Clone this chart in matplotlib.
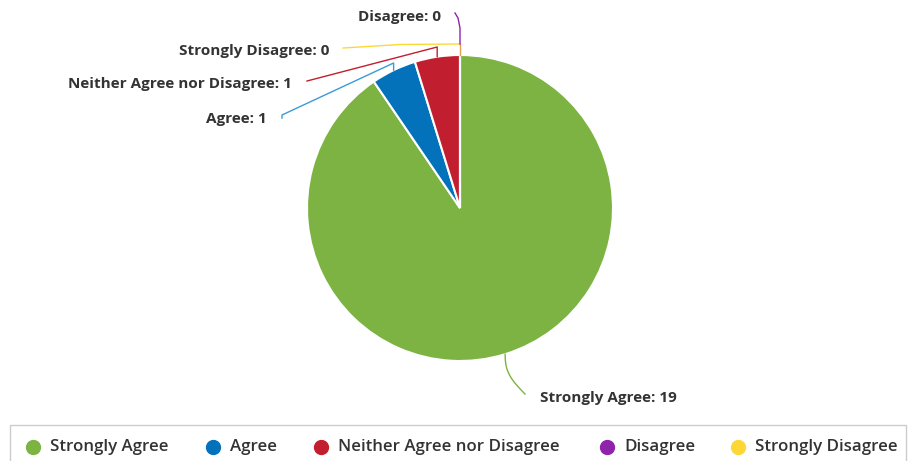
import matplotlib.pyplot as plt
import matplotlib.patches as mpatches
import numpy as np

# survey answers, clockwise from 12 o'clock
categories = ['Strongly Agree', 'Agree', 'Neither Agree nor Disagree', 'Disagree', 'Strongly Disagree']
counts = [19, 1, 1, 0, 0]
colors = ['#7cb342', '#0472bb', '#c11f2f', '#8e24aa', '#fdd835']

W, H = 914, 461
fig = plt.figure(figsize=(W / 100, H / 100), dpi=100)
ax = fig.add_axes([0, 0, 1, 1])

cx, cy, r = 460, H - 208, 153
wedges, _ = ax.pie(counts, colors=colors, startangle=90, counterclock=False,
                   center=(cx, cy), radius=r, frame=True,
                   wedgeprops=dict(edgecolor='white', linewidth=1.5))
ax.set_xlim(0, W)
ax.set_ylim(0, H)
ax.axis('off')

font = 'Open Sans'
lbl = dict(fontsize=11, fontweight='bold', color='#333333', family=font, va='center')


def py(y):
    return H - y


# mid angle of each slice, for the connector start points
total = sum(counts)
start = 90.0
mids = []
for c in counts:
    sweep = 360.0 * c / total
    mids.append(start - sweep / 2)
    start -= sweep

edge = [(cx + r * np.cos(np.radians(a)), cy + r * np.sin(np.radians(a))) for a in mids]

# Strongly Agree
ex, ey = edge[0]
t = np.linspace(0, 1, 30)
xs = ex + (525 - ex) * t - 6 * np.sin(np.pi * t)
ys = ey + (py(394) - ey) * t
ax.plot(xs, ys, color=colors[0], lw=1)
ax.text(540, py(398), f'{categories[0]}: {counts[0]}', ha='left', **lbl)

# Agree
ex, ey = edge[1]
ax.plot([ex, ex, 282, 282], [ey, py(63), py(115), py(118)], color='#3a9ad9', lw=1)
ax.text(267, py(119), f'{categories[1]}: {counts[1]}', ha='right', **lbl)

# Neither Agree nor Disagree
ex, ey = edge[2]
ax.plot([ex, ex, 307], [ey, py(47), py(81)], color=colors[2], lw=1)
ax.text(292, py(84), f'{categories[2]}: {counts[2]}', ha='right', **lbl)

# Strongly Disagree
ax.plot([cx, cx], [py(55), py(44)], color='#e8a050', lw=1)
ax.plot([cx, 400, 343], [py(44), py(44.5), py(48)], color=colors[4], lw=1)
ax.text(329, py(51), f'{categories[4]}: {counts[4]}', ha='right', **lbl)

# Disagree
ax.plot([cx, 460, 458, 455], [py(44), py(28), py(18), py(13)], color=colors[3], lw=1)
ax.text(441, py(17), f'{categories[3]}: {counts[3]}', ha='right', **lbl)

# legend
ax.add_patch(mpatches.Rectangle((10, -5), 896, py(425) + 5, fill=False,
                                edgecolor='#cccccc', lw=1))
leg_x = [33, 213, 321, 607, 738]
for x, name, col in zip(leg_x, categories, colors):
    ax.plot(x, py(447), 'o', ms=10, color=col)
    ax.text(x + 17, py(447), name, fontsize=12.2, fontweight='semibold', color='#333333',
            family=font, ha='left', va='center')

fig.savefig('out.png', dpi=100)
